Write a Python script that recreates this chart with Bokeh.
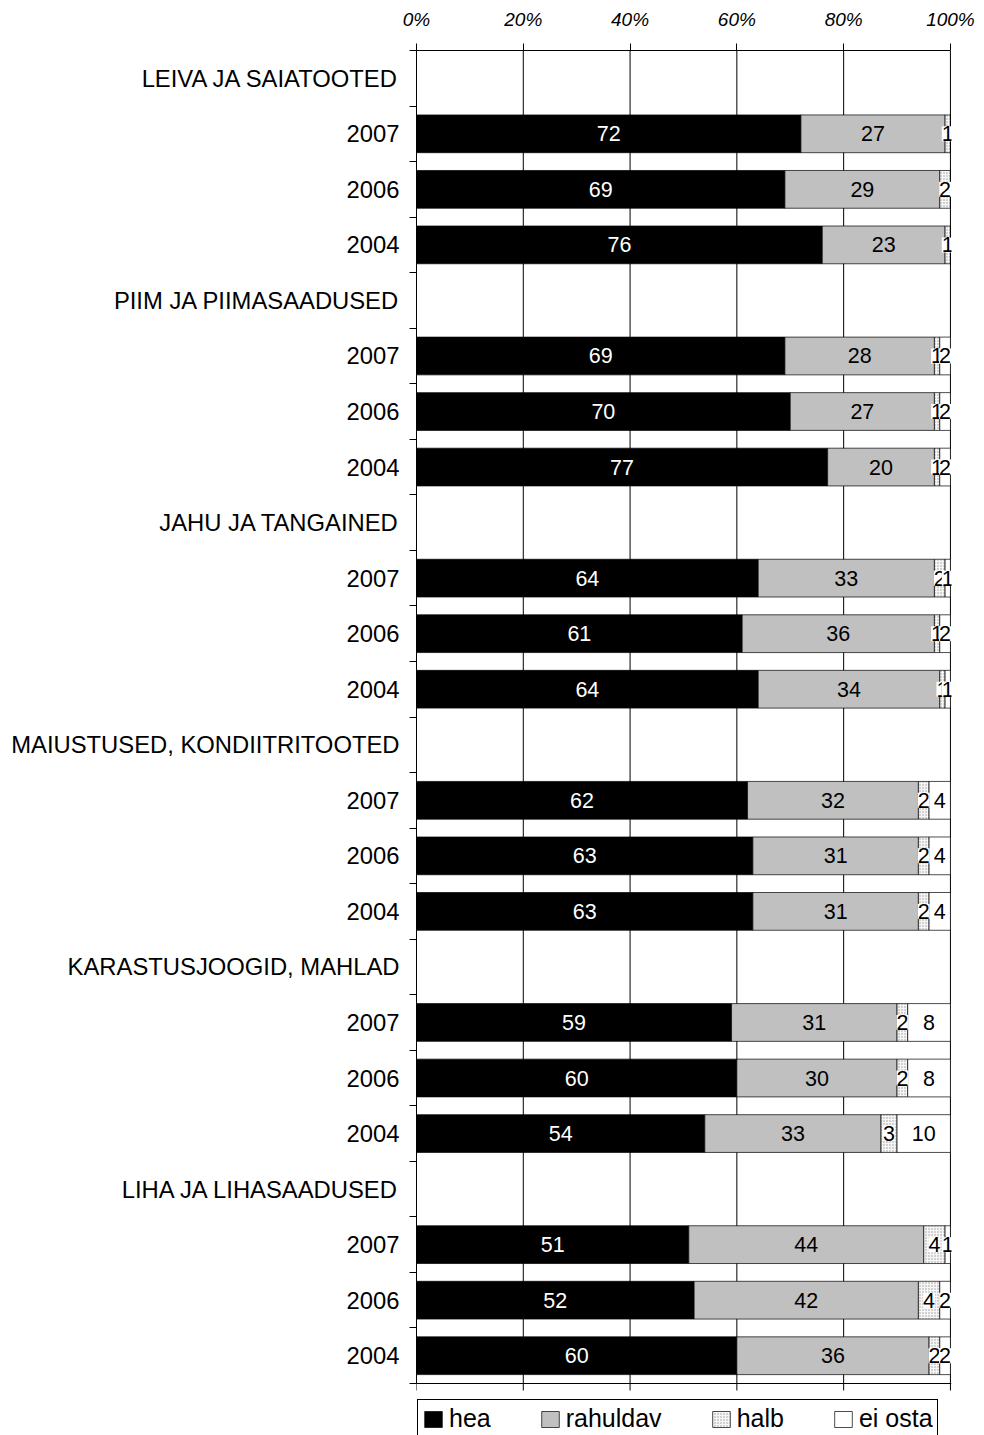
from bokeh.plotting import figure
from bokeh.models import (Range1d, FixedTicker, PrintfTickFormatter, Span,
                          ColumnDataSource, LabelSet, Legend, LegendItem)
from bokeh.core.properties import value
from bokeh.transform import stack
from bokeh.embed import file_html
from bokeh.resources import INLINE

# ---------------- data ----------------
groups = ["LEIVA JA SAIATOOTED", "PIIM JA PIIMASAADUSED", "JAHU JA TANGAINED",
          "MAIUSTUSED, KONDIITRITOOTED", "KARASTUSJOOGID, MAHLAD", "LIHA JA LIHASAADUSED"]
years = ["2007", "2006", "2004"]
series = ["hea", "rahuldav", "halb", "ei osta"]

hea = [72, 69, 76, 69, 70, 77, 64, 61, 64, 62, 63, 63, 59, 60, 54, 51, 52, 60]
rahuldav = [27, 29, 23, 28, 27, 20, 33, 36, 34, 32, 31, 31, 31, 30, 33, 44, 42, 36]
halb = [1, 2, 1, 1, 1, 1, 2, 1, 1, 2, 2, 2, 2, 2, 3, 4, 4, 2]
ei_osta = [0, 0, 0, 2, 2, 2, 1, 2, 1, 4, 4, 4, 8, 8, 10, 1, 2, 2]

x_ticks = [0, 20, 40, 60, 80, 100]

# ---------------- rows ----------------
row_labels = []
bar_y = []
for g in groups:
    row_labels.append(g)
    for yr in years:
        bar_y.append(len(row_labels))
        row_labels.append(yr)
n_rows = len(row_labels)

FONT = "Liberation Sans"

W, H = 984, 1435
TOP, LEFT, RIGHT = 50, 416, 33
CHART_H = 1333                      # pixel height of the bar area
row_px = CHART_H / n_rows
extra_rows = (H - TOP - CHART_H) / row_px   # room under the bars for the legend
tick_rows = 7 / row_px

p = figure(width=W, height=H,
           x_range=Range1d(0, 100.2),
           y_range=Range1d(n_rows - 0.5 + extra_rows, -0.5),
           x_axis_location="above",
           output_backend="svg", toolbar_location=None,
           min_border_left=LEFT, min_border_right=RIGHT,
           min_border_top=TOP, min_border_bottom=0)
p.background_fill_color = "white"
p.border_fill_color = "white"
p.outline_line_color = None
p.xgrid.grid_line_color = None
p.ygrid.grid_line_color = None

# vertical grid lines (also right frame edge and bottom ticks)
p.segment(x0=x_ticks, x1=x_ticks, y0=[-0.5] * len(x_ticks),
          y1=[n_rows - 0.5 + tick_rows] * len(x_ticks),
          line_color="black", line_width=1)
# bottom edge of the bar area
p.add_layout(Span(location=n_rows - 0.5, dimension="width",
                  line_color="black", line_width=1))

# top axis
ax = p.xaxis[0]
ax.ticker = FixedTicker(ticks=x_ticks)
ax.formatter = PrintfTickFormatter(format="%d%%")
ax.bounds = (0, 100)
ax.major_label_text_font = FONT
ax.major_label_text_font_style = "italic"
ax.major_label_text_font_size = "19px"
ax.major_label_text_color = "black"
ax.major_tick_out = 7
ax.major_tick_in = 0
ax.minor_tick_line_color = None
ax.major_tick_line_color = "black"
ax.axis_line_color = "black"
ax.major_label_standoff = 14

# left axis
ya = p.yaxis[0]
ya.ticker = FixedTicker(ticks=list(range(n_rows)),
                        minor_ticks=[i - 0.5 for i in range(n_rows + 1)])
ya.bounds = (-0.5, n_rows - 0.5)
ya.major_label_overrides = {i: lab for i, lab in enumerate(row_labels)}
ya.major_tick_line_color = None
ya.major_tick_out = 0
ya.major_tick_in = 0
ya.minor_tick_out = 7
ya.minor_tick_in = 0
ya.minor_tick_line_color = "black"
ya.axis_line_color = "black"
ya.major_label_standoff = 10
ya.major_label_text_font = FONT
ya.major_label_text_font_size = "23.8px"
ya.major_label_text_color = "black"

# ---------------- bars ----------------
cols = ["hea", "rahuldav", "halb", "ei_osta"]
src = ColumnDataSource(dict(y=bar_y, hea=hea, rahuldav=rahuldav, halb=halb, ei_osta=ei_osta))

styles = [
    dict(fill_color="black"),
    dict(fill_color="#c0c0c0"),
    dict(fill_color="#f6f6f6", hatch_pattern="dot", hatch_color="#9a9a9a",
         hatch_scale=3, hatch_weight=1),
    dict(fill_color="white"),
]
rends = []
for i, c in enumerate(cols):
    r = p.hbar(y="y", height=0.68, left=stack(*cols[:i]), right=stack(*cols[:i + 1]),
               source=src, line_color="black", line_width=0.7, **styles[i])
    rends.append(r)

# ---------------- value labels ----------------
vals = [hea, rahuldav, halb, ei_osta]
text_colors = ["white", "black", "black", "black"]
for i, v in enumerate(vals):
    xs, ys, ts = [], [], []
    for j, val in enumerate(v):
        if val == 0:
            continue
        start = sum(vals[k][j] for k in range(i))
        xs.append(start + val / 2)
        ys.append(bar_y[j])
        ts.append(str(val))
    lsrc = ColumnDataSource(dict(x=xs, y=ys, t=ts))
    kw = {}
    if i >= 2:
        kw = dict(background_fill_color="white", background_fill_alpha=1)
    lab = LabelSet(x="x", y="y", text="t", source=lsrc,
                   text_align="center", text_baseline="middle",
                   text_font=value(FONT), text_font_size=value("21.5px"),
                   text_color=text_colors[i], **kw)
    p.add_layout(lab)

# ---------------- legend ----------------
legend = Legend(items=[LegendItem(label=s, renderers=[r]) for s, r in zip(series, rends)],
                orientation="horizontal", location=(1, -3),
                label_text_font=FONT, label_text_font_size="25px",
                label_text_color="black",
                glyph_width=22, glyph_height=20, label_standoff=5,
                spacing=48, padding=4, margin=0,
                border_line_color="black", border_line_width=1, border_line_alpha=1,
                background_fill_color="white", background_fill_alpha=1)
p.add_layout(legend)

open("out.html", "w").write(file_html(p, INLINE))
